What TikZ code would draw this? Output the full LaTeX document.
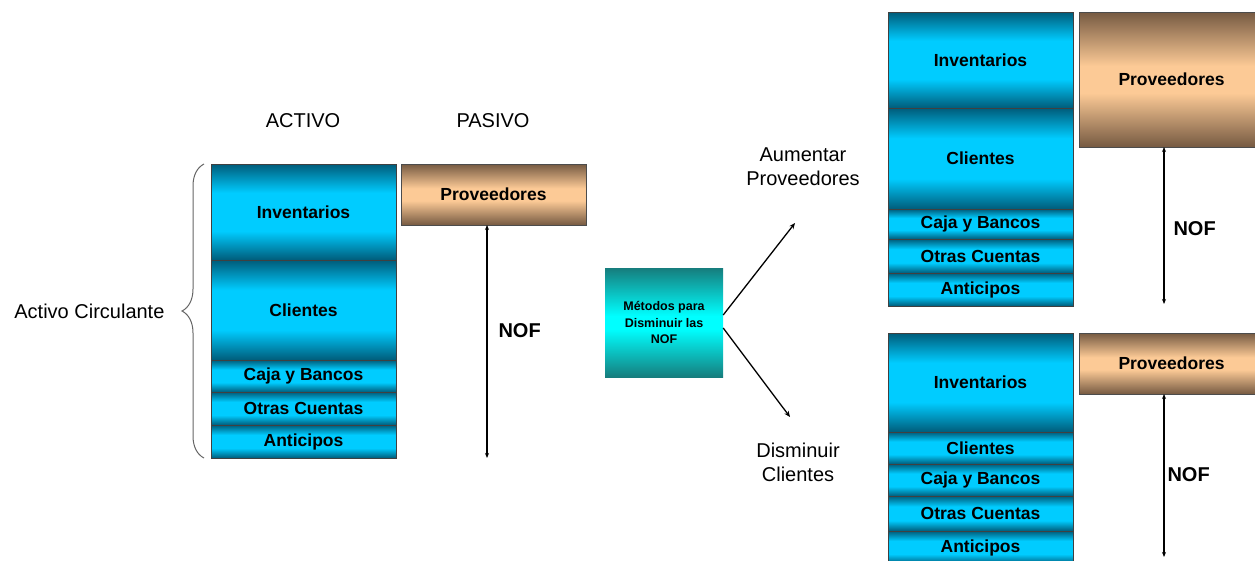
\documentclass[tikz,border=0pt]{standalone}
\usepackage{fontspec}
\setmainfont{Liberation Sans}
\usetikzlibrary{positioning,arrows.meta,decorations.pathreplacing}

\definecolor{cyanD}{RGB}{0,92,122}
\definecolor{cyanL}{RGB}{0,204,255}
\definecolor{tanD}{RGB}{118,90,66}
\definecolor{tanL}{RGB}{252,202,150}
\definecolor{tealD}{RGB}{22,125,125}
\definecolor{tealL}{RGB}{0,255,255}

% vertical gradients of the bars (the shape fills the middle 25bp--75bp)
\pgfdeclareverticalshading{cyanbar}{100bp}{color(0bp)=(cyanD); color(25bp)=(cyanD); color(40bp)=(cyanL); color(60bp)=(cyanL); color(75bp)=(cyanD); color(100bp)=(cyanD)}
\pgfdeclareverticalshading{tanbar}{100bp}{color(0bp)=(tanD); color(25bp)=(tanD); color(45bp)=(tanL); color(55bp)=(tanL); color(75bp)=(tanD); color(100bp)=(tanD)}
\pgfdeclareverticalshading{tealbar}{100bp}{color(0bp)=(tealD); color(25bp)=(tealD); color(47bp)=(tealL); color(53bp)=(tealL); color(75bp)=(tealD); color(100bp)=(tealD)}

\begin{document}
\begin{tikzpicture}[
            x=1pt,y=-1pt,
            abox/.style={rectangle,draw=black!75,line width=1pt,shading=cyanbar,minimum width=185pt,inner sep=0pt,outer sep=0pt,font=\fontsize{17.5}{20}\selectfont\bfseries},
            pbox/.style={rectangle,draw=black!70,line width=1pt,shading=tanbar,minimum width=185pt,inner sep=0pt,outer sep=0pt,font=\fontsize{17.5}{20}\selectfont\bfseries},
            mbox/.style={rectangle,shading=tealbar,minimum width=118pt,minimum height=109pt,inner sep=0pt,align=center,font=\fontsize{12.5}{16.5}\selectfont\bfseries},
            lbl/.style={font=\fontsize{20}{24}\selectfont,align=center},
            nof/.style={font=\fontsize{20}{24}\selectfont\bfseries,anchor=west},
            dbl/.style={{Stealth[length=5pt,width=4pt]}-{Stealth[length=5pt,width=4pt]},line width=1.6pt},
            sgl/.style={-{Stealth[length=6pt,width=5pt]},line width=1.3pt}
        ]
            \useasboundingbox (0,0) rectangle (1255,560);
            \clip (0,0) rectangle (1255,560);

            % left balance sheet
            \node[lbl] (activo) at (303,121) {ACTIVO};
            \node[lbl] (pasivo) at (493,121) {PASIVO};

            \node[abox,minimum height=96pt,anchor=north west] (inv1) at (211,164) {Inventarios};
            \node[abox,minimum height=100pt,below=0pt of inv1] (cli1) {Clientes};
            \node[abox,minimum height=32pt,below=0pt of cli1] (caja1) {Caja y Bancos};
            \node[abox,minimum height=33pt,below=0pt of caja1] (otras1) {Otras Cuentas};
            \node[abox,minimum height=33pt,below=0pt of otras1] (anti1) {Anticipos};
            \node[pbox,minimum height=61pt,anchor=north west] (prov1) at (401,164) {Proveedores};

            \draw[decorate,decoration={brace,amplitude=22pt},gray!80!black,line width=1pt] (204,458) -- (204,164);
            \node[lbl,anchor=east] (circ) at (168,311) {Activo Circulante};

            \coordinate (nof1) at (487,458);
            \draw[dbl] (nof1 |- prov1.south) -- (nof1);
            \node[nof] at (495,331) {NOF};

            % methods
            \node[mbox] (metodos) at (664,322.5) {Métodos para\\Disminuir las\\NOF};
            \coordinate (up) at (795,223);
            \coordinate (down) at (790,417);
            \draw[sgl] (metodos.east |- 0,315) -- (up);
            \draw[sgl] (metodos.east |- 0,328) -- (down);
            \node[lbl] (aum) at (803,167) {Aumentar\\Proveedores};
            \node[lbl] (dis) at (798,462) {Disminuir\\Clientes};

            % right top: more suppliers
            \node[abox,minimum height=96pt,anchor=north west] (inv2) at (888,12) {Inventarios};
            \node[abox,minimum height=101pt,below=0pt of inv2] (cli2) {Clientes};
            \node[abox,minimum height=30pt,below=0pt of cli2] (caja2) {Caja y Bancos};
            \node[abox,minimum height=34pt,below=0pt of caja2] (otras2) {Otras Cuentas};
            \node[abox,minimum height=33pt,below=0pt of otras2] (anti2) {Anticipos};
            \node[pbox,minimum height=135pt,anchor=north west] (prov2) at (1079,12) {Proveedores};

            \coordinate (nof2) at (1164,304);
            \draw[dbl] (nof2 |- prov2.south) -- (nof2);
            \node[nof] at (1170,229) {NOF};

            % right bottom: fewer customers
            \node[abox,minimum height=99pt,anchor=north west] (inv3) at (888,333) {Inventarios};
            \node[abox,minimum height=32pt,below=0pt of inv3] (cli3) {Clientes};
            \node[abox,minimum height=32pt,below=0pt of cli3] (caja3) {Caja y Bancos};
            \node[abox,minimum height=35pt,below=0pt of caja3] (otras3) {Otras Cuentas};
            \node[abox,minimum height=33pt,below=0pt of otras3] (anti3) {Anticipos};
            \node[pbox,minimum height=61pt,anchor=north west] (prov3) at (1079,333) {Proveedores};

            \coordinate (nof3) at (1164,557);
            \draw[dbl] (nof3 |- prov3.south) -- (nof3);
            \node[nof] at (1164,475) {NOF};
        \end{tikzpicture}
\end{document}
